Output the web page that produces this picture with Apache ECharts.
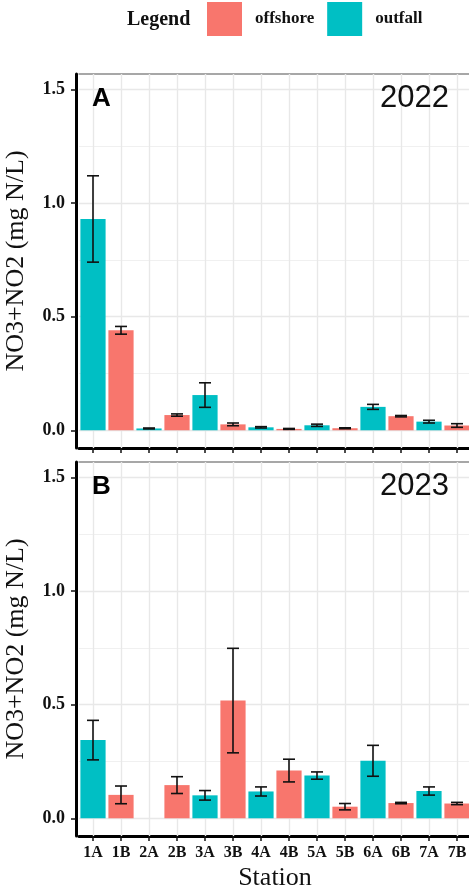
<!DOCTYPE html>
<html>
<head>
<meta charset="utf-8">
<script src="https://cdn.jsdelivr.net/npm/echarts@6/dist/echarts.min.js"></script>
<style>html,body{margin:0;padding:0;background:#fff;}#c{width:469px;height:891px;}</style>
</head>
<body>
<div id="c"></div>
<script>
// ---- data ----
const stations = ['1A','1B','2A','2B','3A','3B','4A','4B','5A','5B','6A','6B','7A','7B'];
const siteType = ['outfall','offshore','outfall','offshore','outfall','offshore','outfall','offshore','outfall','offshore','outfall','offshore','outfall','offshore'];
const mean2022 = [0.93, 0.44, 0.008, 0.067, 0.155, 0.026, 0.013, 0.006, 0.022, 0.009, 0.103, 0.062, 0.038, 0.021];
const se2022   = [0.19, 0.017, 0.002, 0.005, 0.054, 0.006, 0.003, 0.002, 0.005, 0.002, 0.011, 0.003, 0.006, 0.008];
const mean2023 = [0.344, 0.103, null, 0.146, 0.101, 0.518, 0.118, 0.210, 0.188, 0.051, 0.253, 0.067, 0.120, 0.065];
const se2023   = [0.087, 0.039, null, 0.037, 0.021, 0.230, 0.020, 0.050, 0.016, 0.014, 0.068, 0.003, 0.018, 0.005];
const yMajorTicks = [0, 0.5, 1.0, 1.5];
const yMinorTicks = [0.25, 0.75, 1.25];
const typeNames = ['offshore', 'outfall'];
const panelLetters = ['A', 'B'];
const panelYears = ['2022', '2023'];

const colors = {offshore: '#F8766D', outfall: '#00BFC4'};
const SERIF = 'Liberation Serif';
const SANS = 'Liberation Sans';
const YMIN = -0.078, YMAX = 1.568;

const chart = echarts.init(document.getElementById('c'), null, {renderer: 'canvas'});

const grids = [
  {left: 79, top: 74, width: 392, height: 374, outerBoundsMode: 'none', containLabel: false},
  {left: 79, top: 462, width: 392, height: 374, outerBoundsMode: 'none', containLabel: false}
];

const xAxes = [], yAxes = [], series = [];
const means = [mean2022, mean2023], ses = [se2022, se2023];

function errRender(params, api) {
  const x = api.value(0);
  const pLo = api.coord([x, api.value(1)]);
  const pHi = api.coord([x, api.value(2)]);
  const hw = 6;
  const st = {stroke: '#111', lineWidth: 1.6};
  return {type: 'group', children: [
    {type: 'line', shape: {x1: pLo[0], y1: pLo[1], x2: pHi[0], y2: pHi[1]}, style: st},
    {type: 'line', shape: {x1: pLo[0]-hw, y1: pLo[1], x2: pLo[0]+hw, y2: pLo[1]}, style: st},
    {type: 'line', shape: {x1: pHi[0]-hw, y1: pHi[1], x2: pHi[0]+hw, y2: pHi[1]}, style: st}
  ]};
}

for (let g = 0; g < 2; g++) {
  const bottomIdx = xAxes.length;
  xAxes.push({
    type: 'category', gridIndex: g, data: stations, position: 'bottom',
    axisLine: {show: true, onZero: false, lineStyle: {color: '#000', width: 3}},
    axisTick: {show: true, alignWithLabel: true, length: 5, lineStyle: {color: '#111', width: 1.5}},
    axisLabel: {show: g === 1, fontFamily: SERIF, fontWeight: 'bold', fontSize: 16, color: '#111', margin: 9},
    splitLine: {show: false},
    name: g === 1 ? 'Station' : '', nameLocation: 'middle', nameGap: 29,
    nameTextStyle: {fontFamily: SERIF, fontSize: 26, color: '#111'}
  });
  xAxes.push({
    type: 'category', gridIndex: g, data: stations, position: 'top',
    axisLine: {show: true, onZero: false, lineStyle: {color: '#8a8a8a', width: 1.5}},
    axisTick: {show: false}, axisLabel: {show: false}, splitLine: {show: false}
  });
  yAxes.push({
    type: 'value', gridIndex: g, min: YMIN, max: YMAX, splitNumber: 3, offset: 3,
    axisLine: {show: true, onZero: false, lineStyle: {color: '#000', width: 3}},
    axisTick: {show: true, length: 5, customValues: yMajorTicks, lineStyle: {color: '#111', width: 1.5}},
    axisLabel: {show: true, customValues: yMajorTicks,
      formatter: v => v.toFixed(1), fontFamily: SERIF, fontWeight: 'bold', fontSize: 18, color: '#111', margin: 11},
    splitLine: {show: false},
    name: 'NO3+NO2 (mg N/L)', nameLocation: 'middle', nameGap: 47,
    nameTextStyle: {fontFamily: SERIF, fontSize: 26, color: '#111'}
  });

  // gridlines from tick arrays and categories
  const ml = [];
  yMinorTicks.forEach(v => ml.push({yAxis: v, lineStyle: {color: '#F0F0F0', width: 1, type: 'solid'}}));
  yMajorTicks.forEach(v => ml.push({yAxis: v, lineStyle: {color: '#E8E8E8', width: 1.4, type: 'solid'}}));
  stations.forEach(s => ml.push({xAxis: s, lineStyle: {color: '#E8E8E8', width: 1.4, type: 'solid'}}));
  series.push({
    type: 'line', name: '_grid' + g, xAxisIndex: bottomIdx, yAxisIndex: g, data: [], z: 1,
    silent: true, animation: false,
    markLine: {silent: true, symbol: ['none', 'none'], label: {show: false}, animation: false, z: 1, data: ml}
  });

  typeNames.forEach(t => {
    series.push({
      type: 'bar', name: t, xAxisIndex: bottomIdx, yAxisIndex: g, z: 3,
      barWidth: '90%', barGap: '-100%',
      itemStyle: {color: colors[t]},
      data: means[g].map((v, i) => siteType[i] === t ? v : null),
      animation: false
    });
  });

  const errData = [];
  means[g].forEach((v, i) => {
    if (v != null && ses[g][i] != null) errData.push([i, v - ses[g][i], v + ses[g][i]]);
  });
  series.push({
    type: 'custom', name: '_err' + g, xAxisIndex: bottomIdx, yAxisIndex: g, z: 4,
    renderItem: errRender, encode: {x: 0, y: [1, 2]}, data: errData, animation: false
  });
}

const titles = [
  {text: 'Legend', left: 127, top: 10, padding: 0, textStyle: {fontFamily: SERIF, fontWeight: 'bold', fontSize: 20, color: '#111'}}
];
for (let g = 0; g < 2; g++) {
  titles.push({text: panelLetters[g], left: 92, top: grids[g].top + 12, padding: 0,
    textStyle: {fontFamily: SANS, fontWeight: 'bold', fontSize: 26, color: '#000'}});
  titles.push({text: panelYears[g], right: 20, top: grids[g].top + 9, padding: 0,
    textStyle: {fontFamily: SANS, fontWeight: 'normal', fontSize: 31, color: '#111'}});
}

chart.setOption({
  animation: false,
  backgroundColor: '#fff',
  title: titles,
  legend: {
    data: typeNames, left: 207, top: 2, padding: 0, itemWidth: 35, itemHeight: 34, itemGap: 13, icon: 'rect',
    textStyle: {fontFamily: SERIF, fontWeight: 'bold', fontSize: 17, color: '#111', padding: [0, 0, 0, 8]}
  },
  grid: grids,
  xAxis: xAxes,
  yAxis: yAxes,
  series: series
});
</script>
</body>
</html>
